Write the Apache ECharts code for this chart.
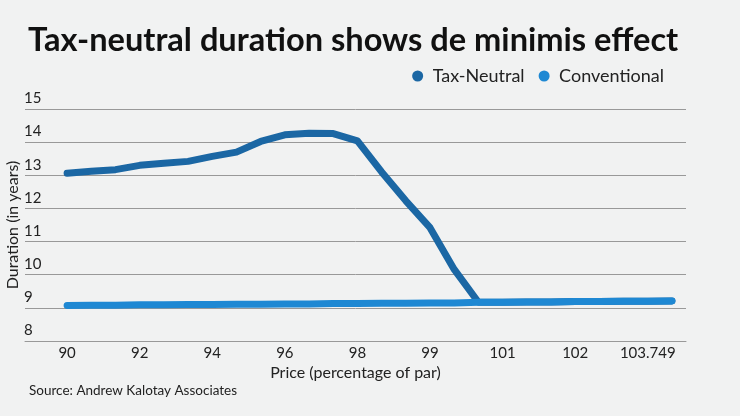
<!DOCTYPE html>
<html>
<head>
<meta charset="utf-8">
<script src="https://cdn.jsdelivr.net/npm/echarts@6/dist/echarts.min.js"></script>
<style>
  html, body { margin: 0; padding: 0; background: #f1f2f2; }
  #chart-container { width: 740px; height: 416px; }
</style>
</head>
<body>
<div id="chart-container"></div>
<script>
var dom = document.getElementById('chart-container');
var myChart = echarts.init(dom, null, { renderer: 'canvas' });

// price points (only every third one is labelled on the chart)
var priceLabels = ['90', '', '', '92', '', '', '94', '', '', '96', '', '', '98',
    '', '', '99', '', '', '101', '', '', '102', '', '', '103.749', ''];
var labelSteps = [0, 3, 6, 9, 12, 15, 18, 21, 24];

var taxNeutral = [13.06, 13.12, 13.17, 13.30, 13.36, 13.42, 13.57, 13.70, 14.02, 14.22,
    14.27, 14.26, 14.04, 13.10, 12.23, 11.42, 10.16, 9.17, 9.17, 9.18, 9.18, 9.19,
    9.19, 9.20, 9.20, 9.21];
var conventional = [9.07, 9.08, 9.08, 9.09, 9.09, 9.10, 9.10, 9.11, 9.11, 9.12,
    9.12, 9.13, 9.13, 9.14, 9.14, 9.15, 9.15, 9.17, 9.17, 9.18, 9.18, 9.19, 9.19,
    9.20, 9.20, 9.21];

function pairs(arr) {
    return arr.map(function (v, i) { return [i, v]; });
}

var font = 'Lato';
var option = {
    backgroundColor: '#f1f2f2',
    textStyle: { fontFamily: font },
    title: [
        {
            text: 'Tax-neutral duration shows de minimis effect',
            left: 23,
            top: 19,
            textStyle: { fontFamily: font, fontSize: 32.6, fontWeight: 'bold', color: '#111' }
        },
        {
            text: 'Source: Andrew Kalotay Associates',
            left: 24,
            top: 379,
            textStyle: { fontFamily: font, fontSize: 13.5, fontWeight: 'normal', color: '#222' }
        }
    ],
    legend: {
        top: 62,
        right: 71,
        icon: 'circle',
        itemWidth: 20,
        itemHeight: 11,
        itemGap: 14,
        textStyle: { fontFamily: font, fontSize: 18, color: '#222' },
        data: ['Tax-Neutral', 'Conventional']
    },
    grid: { left: 25, right: 54, top: 109, bottom: 75, outerBoundsMode: 'none' },
    xAxis: {
        type: 'value',
        min: -1.74,
        max: 25.58,
        name: 'Price (percentage of par)',
        nameLocation: 'middle',
        nameGap: 24,
        nameMoveOverlap: false,
        nameTextStyle: { fontFamily: font, fontSize: 16, color: '#222' },
        axisLine: { show: true, lineStyle: { color: '#999', width: 1 } },
        axisTick: { show: false },
        splitLine: { show: false },
        axisLabel: {
            customValues: labelSteps,
            margin: 5,
            fontFamily: font,
            fontSize: 15,
            color: '#222',
            formatter: function (v) { return priceLabels[Math.round(v)]; }
        }
    },
    yAxis: {
        type: 'value',
        min: 8,
        max: 15,
        interval: 1,
        name: 'Duration (in years)',
        nameLocation: 'middle',
        nameGap: 4,
        nameMoveOverlap: false,
        nameTextStyle: { fontFamily: font, fontSize: 16, color: '#222' },
        axisLine: { show: false },
        axisTick: { show: false },
        splitLine: { lineStyle: { color: '#999', width: 1 } },
        axisLabel: {
            inside: true,
            margin: -1,
            verticalAlign: 'bottom',
            padding: [0, 0, 3, 0],
            fontFamily: font,
            fontSize: 15,
            color: '#222'
        }
    },
    series: [
        {
            name: 'Tax-Neutral',
            type: 'line',
            data: pairs(taxNeutral),
            symbol: 'none',
            color: '#1b67a4',
            lineStyle: { width: 7, cap: 'round', join: 'round' }
        },
        {
            name: 'Conventional',
            type: 'line',
            data: pairs(conventional),
            symbol: 'none',
            color: '#1e88d3',
            lineStyle: { width: 7, cap: 'round', join: 'round' }
        }
    ]
};

myChart.setOption(option);
window.addEventListener('resize', myChart.resize);
</script>
</body>
</html>
